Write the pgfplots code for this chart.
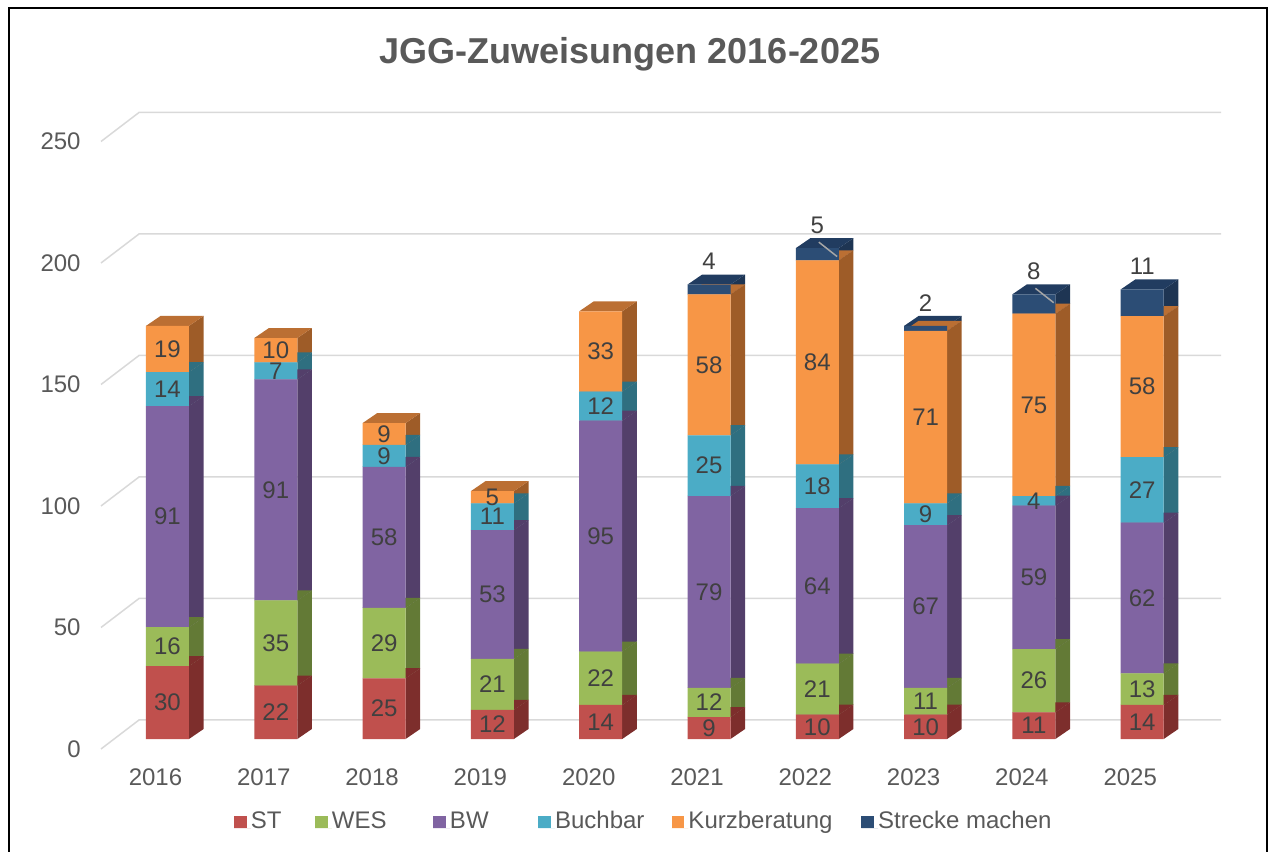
\documentclass[border=0pt]{standalone}
\usepackage{pgfplots}
\pgfplotsset{compat=1.18}
\usepackage{pgfplotstable}
\usepackage{fontspec}
\setmainfont{Liberation Sans}

\definecolor{stF}{HTML}{C0504D}\definecolor{stS}{HTML}{7D2E2C}
\definecolor{wesF}{HTML}{9BBB59}\definecolor{wesS}{HTML}{637A36}
\definecolor{bwF}{HTML}{8064A2}\definecolor{bwS}{HTML}{533F6A}
\definecolor{buF}{HTML}{4BACC6}\definecolor{buS}{HTML}{2F6F80}
\definecolor{kuF}{HTML}{F79646}\definecolor{kuS}{HTML}{9E5C28}\definecolor{kuT}{HTML}{BB6F33}
\definecolor{srF}{HTML}{2C4D75}\definecolor{srS}{HTML}{1E3553}\definecolor{srT}{HTML}{213C60}
\definecolor{lbl}{HTML}{404040}
\definecolor{tickc}{HTML}{595959}
\definecolor{gridc}{HTML}{D9D9D9}
\definecolor{leadc}{HTML}{A6A6A6}

\pgfplotstableread{
i year ST WES BW Buchbar Kurz Strecke
0 2016 30 16 91 14 19 0
1 2017 22 35 91 7 10 0
2 2018 25 29 58 9 9 0
3 2019 12 21 53 11 5 0
4 2020 14 22 95 12 33 0
5 2021 9 12 79 25 58 4
6 2022 10 21 64 18 84 5
7 2023 10 11 67 9 71 2
8 2024 11 26 59 4 75 8
9 2025 14 13 62 27 58 11
}\data

\newdimen\hfd
\newdimen\hhd
\newdimen\hld
% node of each stacked segment sits at the middle of the segment
\newcommand\seg[2]{\hfd=\dimexpr\rawy pt*243/200\relax\hhd=.5\hfd\ifdim\hfd>0.01pt\tikz[overlay]{\fill[#1] (10.75pt,\the\hhd) -- ++(7.3pt,5pt) -- ++(0pt,-\the\hfd) -- ++(-7.3pt,-5pt) -- cycle;\fill[#2] (-10.75pt,\the\hhd) -- (10.75pt,\the\hhd) -- ++(7.3pt,5pt) -- ++(-21.5pt,0pt) -- cycle;}\fi}
\newcommand\intval{\the\numexpr\dimexpr\rawy pt\relax/65536\relax}
\newcommand\lblin{\ifdim\rawy pt>0pt\tikz[overlay]{\node[text=lbl,font=\fontsize{12}{14}\selectfont,inner sep=0pt] at (0pt,0pt) {\intval};}\fi}
\newcommand\leadline{\draw[leadc, line width=0.75pt] (0.75pt,\the\dimexpr\hld+3pt\relax) -- (9.9pt,\the\dimexpr\hld-4.2pt\relax);}
\newcommand\lblout{\hld=\dimexpr\rawy pt*243/400\relax\hhd=\dimexpr\hld+11.5pt\relax\ifdim\rawy pt>0pt\tikz[overlay]{\ifnum\intval=5 \leadline\fi\ifnum\intval=8 \leadline\fi\node[text=lbl,font=\fontsize{12}{14}\selectfont,inner sep=0pt] at (0pt,\the\hhd) {\intval};}\fi}

\pgfplotsset{
  common/.style={
    at={(50.5pt,56.5pt)}, anchor=south west,
    x=54.15pt, y=1.215pt, xmin=-0.614, xmax=9.728, ymin=0, ymax=260,
    enlargelimits=false, clip=false, ybar stacked, bar width=21.5pt,
    visualization depends on=rawy\as\rawy,
    every node near coord/.style={inner sep=0pt, outer sep=0pt, anchor=center},
  },
  sq/.style={legend image code/.code={\fill[##1] (0pt,0.35pt) rectangle (6.3pt,6.65pt); \path (0pt,0pt) -- (8.4pt,0pt);}},
}

\begin{document}
\begin{tikzpicture}
\useasboundingbox (0pt,0pt) rectangle (635pt,426pt);
\draw[line width=1.2pt] (4.35pt,-10pt) -- (4.35pt,422pt) -- (633.5pt,422pt) -- (633.5pt,-10pt);
\node[font=\bfseries\fontsize{18}{21}\selectfont, text=tickc, anchor=base] at (315pt,394.3pt) {JGG-Zuweisungen 2016-2025};
\foreach \v in {0,50,...,250} {
  \draw[gridc, line width=0.75pt] (50.5pt,{51.5pt+\v*1.215pt}) -- ++(19pt,14.5pt) -- (610.5pt,{66pt+\v*1.215pt});
}
% side and top faces
\begin{axis}[common, hide axis]
\addplot[fill=none, draw=none, nodes near coords={\seg{stS}{stS}}] table[x=i,y=ST]{\data};
\addplot[fill=none, draw=none, nodes near coords={\seg{wesS}{wesS}}] table[x=i,y=WES]{\data};
\addplot[fill=none, draw=none, nodes near coords={\seg{bwS}{bwS}}] table[x=i,y=BW]{\data};
\addplot[fill=none, draw=none, nodes near coords={\seg{buS}{buS}}] table[x=i,y=Buchbar]{\data};
\addplot[fill=none, draw=none, nodes near coords={\seg{kuS}{kuT}}] table[x=i,y=Kurz]{\data};
\addplot[fill=none, draw=none, nodes near coords={\seg{srS}{srT}}] table[x=i,y=Strecke]{\data};
\end{axis}
% front faces, ticks, legend
\begin{axis}[common,
  axis line style={draw=none}, tick style={draw=none}, major tick length=0pt,
  ytick={0,50,...,250}, xtick={0,...,9},
  xticklabels={2016,2017,2018,2019,2020,2021,2022,2023,2024,2025},
  ticklabel style={font=\fontsize{12}{14}\selectfont, text=tickc},
  /pgf/number format/assume math mode=true,
  yticklabel style={anchor=east, inner sep=0pt, xshift=-10pt, yshift=-5pt},
  xticklabel style={anchor=base, inner sep=0pt, yshift=-23.15pt, xshift=-6pt},
  legend columns=6,
  legend cell align=left,
  legend style={at={(axis description cs:0.11875,-0.1309)}, anchor=west, draw=none, fill=none,
    inner sep=0pt, outer sep=0pt, column sep=0pt, font=\fontsize{12}{14}\selectfont, text=tickc,
    nodes={inner sep=0pt, anchor=base west}},
]
\addplot[fill=stF, draw=none, sq] table[x=i,y=ST]{\data};
\addlegendentry{\makebox[32.15pt][l]{ST}}
\addplot[fill=wesF, draw=none, sq] table[x=i,y=WES]{\data};
\addlegendentry{\makebox[50.65pt][l]{WES}}
\addplot[fill=bwF, draw=none, sq] table[x=i,y=BW]{\data};
\addlegendentry{\makebox[44.15pt][l]{BW}}
\addplot[fill=buF, draw=none, sq] table[x=i,y=Buchbar]{\data};
\addlegendentry{\makebox[58.3pt][l]{Buchbar}}
\addplot[fill=kuF, draw=none, sq] table[x=i,y=Kurz]{\data};
\addlegendentry{\makebox[86.4pt][l]{Kurzberatung}}
\addplot[fill=srF, draw=none, sq] table[x=i,y=Strecke]{\data};
\addlegendentry{Strecke machen}
\end{axis}
% value labels
\begin{axis}[common, hide axis]
\addplot[fill=none, draw=none, nodes near coords={\lblin}] table[x=i,y=ST]{\data};
\addplot[fill=none, draw=none, nodes near coords={\lblin}] table[x=i,y=WES]{\data};
\addplot[fill=none, draw=none, nodes near coords={\lblin}] table[x=i,y=BW]{\data};
\addplot[fill=none, draw=none, nodes near coords={\lblin}] table[x=i,y=Buchbar]{\data};
\addplot[fill=none, draw=none, nodes near coords={\lblin}] table[x=i,y=Kurz]{\data};
\addplot[fill=none, draw=none, nodes near coords={\lblout}] table[x=i,y=Strecke]{\data};
\end{axis}
\end{tikzpicture}
\end{document}
